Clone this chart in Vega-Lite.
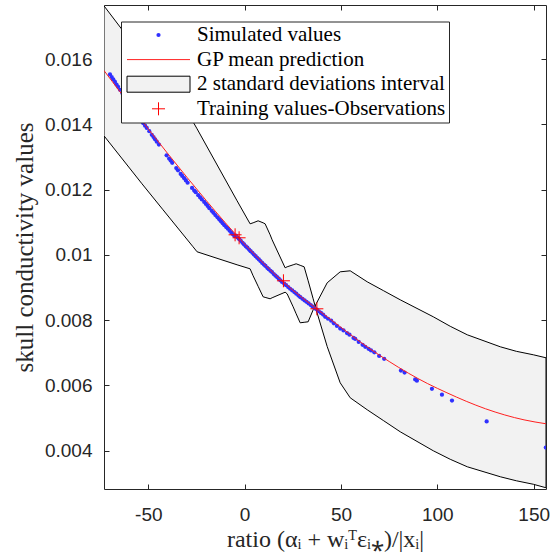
{
  "$schema": "https://vega.github.io/schema/vega-lite/v6.json",
  "width": 442,
  "height": 484,
  "autosize": {"type": "none"},
  "padding": {"left": 104, "top": 5, "right": 4, "bottom": 66},
  "background": "white",
  "config": {
    "view": {"stroke": "#262626", "strokeWidth": 1},
    "axis": {
      "grid": false, "domain": false, "tickSize": -5, "tickColor": "#262626", "tickWidth": 1,
      "labelFont": "Liberation Sans", "labelFontSize": 19, "labelColor": "#262626",
      "titleFont": "Liberation Serif", "titleFontWeight": "normal", "titleColor": "#262626", "zindex": 1
    },
    "legend": {
      "padding": 3.5, "rowPadding": 3.6, "clipHeight": 20,
      "labelFont": "Liberation Serif", "labelFontSize": 21, "labelColor": "#000000",
      "labelOffset": 6.5, "symbolOffset": 2, "symbolStrokeWidth": 1,
      "fillColor": "#ffffff", "strokeColor": "#262626", "labelLimit": 400
    }
  },
  "datasets": {
    "band": [
      {"x": -73, "a": 0.017634, "b": 0.013649},
      {"x": -53.27, "a": 0.016101, "b": 0.012177},
      {"x": -42.36, "a": 0.015243, "b": 0.01138},
      {"x": -26.78, "a": 0.014078, "b": 0.010246},
      {"x": -24.7, "a": 0.013863, "b": 0.010093},
      {"x": -3.92, "a": 0.011656, "b": 0.009694},
      {"x": 2.83, "a": 0.010951, "b": 0.009571},
      {"x": 4.39, "a": 0.010982, "b": 0.009357},
      {"x": 6.99, "a": 0.011043, "b": 0.009035},
      {"x": 9.58, "a": 0.010982, "b": 0.008713},
      {"x": 10.62, "a": 0.010951, "b": 0.008695},
      {"x": 13.22, "a": 0.010614, "b": 0.008652},
      {"x": 14.26, "a": 0.01046, "b": 0.008683},
      {"x": 21.01, "a": 0.009602, "b": 0.008854},
      {"x": 22.05, "a": 0.009633, "b": 0.008805},
      {"x": 25.17, "a": 0.009694, "b": 0.008406},
      {"x": 26.73, "a": 0.009725, "b": 0.008192},
      {"x": 28.81, "a": 0.009679, "b": 0.007916},
      {"x": 30.88, "a": 0.009633, "b": 0.007931},
      {"x": 32.96, "a": 0.009204, "b": 0.007947},
      {"x": 35.56, "a": 0.008652, "b": 0.008314},
      {"x": 37.12, "a": 0.008314, "b": 0.008498},
      {"x": 42.83, "a": 0.007189, "b": 0.009142},
      {"x": 49.58, "a": 0.006077, "b": 0.009479},
      {"x": 54.78, "a": 0.005617, "b": 0.00951},
      {"x": 63.61, "a": 0.005249, "b": 0.009173},
      {"x": 72.18, "a": 0.004912, "b": 0.008897},
      {"x": 80.75, "a": 0.004574, "b": 0.008621},
      {"x": 97.9, "a": 0.003992, "b": 0.0081},
      {"x": 106.7, "a": 0.003731, "b": 0.007809},
      {"x": 115.56, "a": 0.003501, "b": 0.007548},
      {"x": 132.7, "a": 0.003195, "b": 0.00718},
      {"x": 141.0, "a": 0.003072, "b": 0.007042},
      {"x": 149.84, "a": 0.002965, "b": 0.006935},
      {"x": 156.4, "a": 0.002858, "b": 0.006843}
    ],
    "mean": [
      {"x": -73, "y": 0.01565}, {"x": -60, "y": 0.01463}, {"x": -50, "y": 0.01386},
      {"x": -40, "y": 0.01311}, {"x": -30, "y": 0.01238}, {"x": -20, "y": 0.01167},
      {"x": -10, "y": 0.01098}, {"x": 0, "y": 0.01033}, {"x": 10, "y": 0.00973},
      {"x": 20, "y": 0.00917}, {"x": 30, "y": 0.00868}, {"x": 37.5, "y": 0.00834},
      {"x": 45, "y": 0.008}, {"x": 55, "y": 0.00755}, {"x": 65, "y": 0.00712},
      {"x": 75, "y": 0.00673}, {"x": 85, "y": 0.00637}, {"x": 95, "y": 0.00605},
      {"x": 105, "y": 0.00577}, {"x": 115, "y": 0.00551}, {"x": 125, "y": 0.00528},
      {"x": 135, "y": 0.00509}, {"x": 145, "y": 0.00494}, {"x": 156.4, "y": 0.00482}
    ],
    "sim": [
      {"x": -69.9, "y": 0.01553}, {"x": -69.0, "y": 0.01545}, {"x": -68.2, "y": 0.01538},
      {"x": -67.3, "y": 0.0153}, {"x": -66.5, "y": 0.01522}, {"x": -65.7, "y": 0.01515},
      {"x": -64.7, "y": 0.01506}, {"x": -63.5, "y": 0.01496}, {"x": -62.0, "y": 0.01483},
      {"x": -60.5, "y": 0.01469}, {"x": -59.0, "y": 0.01456}, {"x": -57.5, "y": 0.01444},
      {"x": -55.8, "y": 0.01429}, {"x": -54.3, "y": 0.01417}, {"x": -52.7, "y": 0.01404},
      {"x": -51.7, "y": 0.01396}, {"x": -50.8, "y": 0.01389}, {"x": -49.5, "y": 0.01379},
      {"x": -48.2, "y": 0.01368}, {"x": -47.3, "y": 0.01361}, {"x": -46.5, "y": 0.01354},
      {"x": -45.6, "y": 0.01347}, {"x": -44.5, "y": 0.01338}, {"x": -40.5, "y": 0.01305},
      {"x": -39.2, "y": 0.01295}, {"x": -38.4, "y": 0.01289}, {"x": -37.6, "y": 0.01282},
      {"x": -35.5, "y": 0.01266}, {"x": -34.6, "y": 0.01259}, {"x": -33.2, "y": 0.01248},
      {"x": -32.4, "y": 0.01242}, {"x": -31.4, "y": 0.01235}, {"x": -30.5, "y": 0.01228},
      {"x": -29.6, "y": 0.01221}, {"x": -27.3, "y": 0.01205}, {"x": -26.2, "y": 0.01197},
      {"x": -25.4, "y": 0.01192}, {"x": -24.1, "y": 0.01183}, {"x": -23.1, "y": 0.01176},
      {"x": -22.2, "y": 0.0117}, {"x": -21.0, "y": 0.01162}, {"x": -20.1, "y": 0.01156},
      {"x": -19.2, "y": 0.0115}, {"x": -18.3, "y": 0.01143}, {"x": -17.1, "y": 0.01135},
      {"x": -16.2, "y": 0.01129}, {"x": -15.2, "y": 0.01122}, {"x": -14.1, "y": 0.01115},
      {"x": -13.2, "y": 0.01109}, {"x": -12.3, "y": 0.01103}, {"x": -11.4, "y": 0.01097},
      {"x": -10.5, "y": 0.01091}, {"x": -9.6, "y": 0.01085}, {"x": -8.7, "y": 0.0108},
      {"x": -7.8, "y": 0.01074}, {"x": -6.9, "y": 0.01068}, {"x": -6.1, "y": 0.01063},
      {"x": -5.3, "y": 0.01058}, {"x": -4.5, "y": 0.01059}, {"x": -3.6, "y": 0.01053},
      {"x": -2.8, "y": 0.01048}, {"x": -2.0, "y": 0.01043}, {"x": -1.1, "y": 0.01037},
      {"x": -0.3, "y": 0.01032}, {"x": 0.6, "y": 0.01026}, {"x": 1.4, "y": 0.01022},
      {"x": 2.3, "y": 0.01016}, {"x": 3.1, "y": 0.01011}, {"x": 4.0, "y": 0.01006},
      {"x": 4.8, "y": 0.01001}, {"x": 5.7, "y": 0.00996}, {"x": 6.5, "y": 0.00991},
      {"x": 7.4, "y": 0.00986}, {"x": 8.2, "y": 0.00981}, {"x": 9.1, "y": 0.00975},
      {"x": 10.0, "y": 0.0097}, {"x": 10.8, "y": 0.00966}, {"x": 11.7, "y": 0.0096},
      {"x": 12.5, "y": 0.00956}, {"x": 13.4, "y": 0.00951}, {"x": 14.2, "y": 0.00947},
      {"x": 15.1, "y": 0.00941}, {"x": 16.0, "y": 0.00936}, {"x": 16.8, "y": 0.00932},
      {"x": 17.7, "y": 0.00927}, {"x": 18.5, "y": 0.00922}, {"x": 19.4, "y": 0.00917},
      {"x": 20.5, "y": 0.00912}, {"x": 21.5, "y": 0.00907}, {"x": 22.6, "y": 0.00901},
      {"x": 23.6, "y": 0.00896}, {"x": 24.7, "y": 0.00891}, {"x": 25.8, "y": 0.00886},
      {"x": 26.8, "y": 0.00881}, {"x": 27.9, "y": 0.00875}, {"x": 28.9, "y": 0.0087},
      {"x": 30.0, "y": 0.00865}, {"x": 31.1, "y": 0.0086}, {"x": 32.1, "y": 0.00856},
      {"x": 33.2, "y": 0.00851}, {"x": 34.3, "y": 0.00846}, {"x": 35.3, "y": 0.00841},
      {"x": 36.4, "y": 0.00836}, {"x": 37.5, "y": 0.00832}, {"x": 38.5, "y": 0.00827},
      {"x": 39.6, "y": 0.00822}, {"x": 40.7, "y": 0.00817}, {"x": 41.8, "y": 0.0081},
      {"x": 43.3, "y": 0.00804}, {"x": 44.9, "y": 0.00798}, {"x": 46.3, "y": 0.0079},
      {"x": 47.9, "y": 0.00782}, {"x": 49.6, "y": 0.00774}, {"x": 51.3, "y": 0.00768},
      {"x": 53.1, "y": 0.0076}, {"x": 54.4, "y": 0.00755}, {"x": 56.5, "y": 0.00745},
      {"x": 57.4, "y": 0.00742}, {"x": 59.2, "y": 0.00733}, {"x": 61.2, "y": 0.00724},
      {"x": 62.6, "y": 0.00718}, {"x": 64.3, "y": 0.00712}, {"x": 65.6, "y": 0.00707},
      {"x": 67.3, "y": 0.00701}, {"x": 69.8, "y": 0.0069}, {"x": 72.4, "y": 0.00681},
      {"x": 81.1, "y": 0.00645}, {"x": 83.0, "y": 0.00639}, {"x": 88.5, "y": 0.00618},
      {"x": 89.4, "y": 0.00614}, {"x": 97.2, "y": 0.00589}, {"x": 102.4, "y": 0.00571},
      {"x": 107.6, "y": 0.00553}, {"x": 125.6, "y": 0.00489}, {"x": 156.3, "y": 0.00409}
    ],
    "train": [
      {"x": -4.96, "y": 0.010614}, {"x": -2.88, "y": 0.010522},
      {"x": 20.13, "y": 0.009204}, {"x": 37.48, "y": 0.008345}
    ]
  },
  "layer": [
    {
      "data": {"name": "band"},
      "mark": {"type": "area", "fill": "#f2f2f2", "stroke": "#000000", "strokeWidth": 1, "clip": true, "interpolate": "linear", "opacity": 1},
      "encoding": {
        "x": {"field": "x", "type": "quantitative",
          "scale": {"domain": [-73, 156.4], "nice": false, "zero": false},
          "axis": {"values": [-50, 0, 50, 100, 150], "labelExpr": "'' + datum.value", "labelPadding": 21,
            "title": "ratio (αᵢ + wᵢᵀεᵢ⁎)/|xᵢ|", "titleFontSize": 24, "titleX": 221, "titleY": 57,
            "titleAlign": "center", "titleBaseline": "alphabetic"}},
        "y": {"field": "a", "type": "quantitative",
          "scale": {"domain": [0.00282, 0.01766], "nice": false, "zero": false},
          "axis": {"values": [0.004, 0.006, 0.008, 0.01, 0.012, 0.014, 0.016], "labelExpr": "'' + datum.value", "labelPadding": 17,
            "title": "skull conductivity values", "titleFontSize": 25, "titleX": -72, "titleY": 242, "titleAngle": 270,
            "titleAlign": "center", "titleBaseline": "alphabetic"}},
        "y2": {"field": "b"}
      }
    },
    {
      "data": {"name": "sim"},
      "mark": {"type": "point", "filled": true, "size": 18, "opacity": 1, "clip": true},
      "encoding": {
        "x": {"field": "x", "type": "quantitative", "axis": null},
        "y": {"field": "y", "type": "quantitative", "axis": null},
        "fill": {"datum": "Simulated values", "type": "nominal",
          "scale": {"domain": ["Simulated values", "GP mean prediction", "2 standard deviations interval", "Training values-Observations"],
                    "range": ["#3030ff", "transparent", "#f2f2f2", "transparent"]},
          "legend": {"title": null, "orient": "none", "legendX": 17, "legendY": 16.5,
            "symbolType": {"expr": "datum.value === 'Simulated values' ? 'circle' : (datum.value === 'GP mean prediction' ? 'stroke' : (datum.value === '2 standard deviations interval' ? 'M-1,-0.254H1V0.254H-1Z' : 'M-1,0H1M0,-1V1'))"},
            "symbolStrokeColor": {"expr": "datum.value === 'GP mean prediction' ? '#ff2020' : (datum.value === '2 standard deviations interval' ? '#000000' : (datum.value === 'Training values-Observations' ? '#ff0000' : 'transparent'))"},
            "symbolSize": {"expr": "datum.value === 'Simulated values' ? 18 : (datum.value === 'Training values-Observations' ? 169 : 3969)"},
            "symbolStrokeWidth": 1,
            "symbolOpacity": 1}}
      }
    },
    {
      "data": {"name": "mean"},
      "mark": {"type": "line", "stroke": "#ff2020", "strokeWidth": 1, "interpolate": "monotone", "clip": true},
      "encoding": {
        "x": {"field": "x", "type": "quantitative",
          "axis": {"orient": "top", "values": [-50, 0, 50, 100, 150], "labels": false, "title": null}},
        "y": {"field": "y", "type": "quantitative",
          "axis": {"orient": "right", "values": [0.004, 0.006, 0.008, 0.01, 0.012, 0.014, 0.016], "labels": false, "title": null}}
      }
    },
    {
      "data": {"name": "train"},
      "mark": {"type": "point", "filled": false, "stroke": "#ff0000", "shape": "M-1,0H1M0,-1V1", "size": 169, "opacity": 1, "strokeWidth": 1, "clip": true},
      "encoding": {
        "x": {"field": "x", "type": "quantitative", "axis": null},
        "y": {"field": "y", "type": "quantitative", "axis": null}
      }
    }
  ],
  "resolve": {"axis": {"x": "independent", "y": "independent"}}
}
